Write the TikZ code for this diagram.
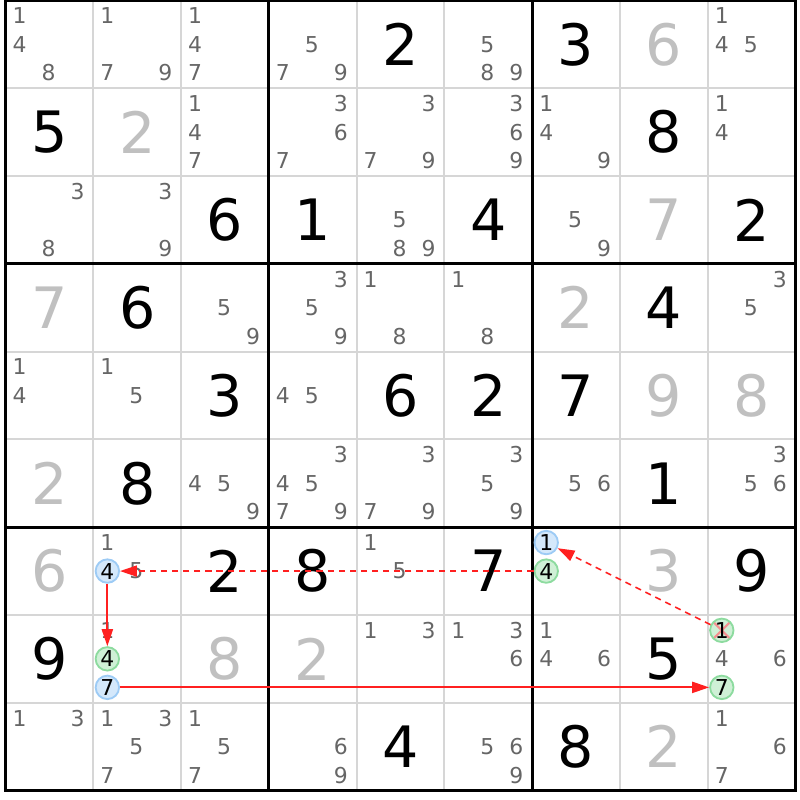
\documentclass[tikz,border=0pt]{standalone}
\usepackage{fontspec}
\setmainfont{DejaVu Sans}
\usetikzlibrary{arrows.meta}

\definecolor{candgray}{HTML}{666666}
\definecolor{solvedgray}{HTML}{C0C0C0}
\definecolor{cellline}{HTML}{D6D6D6}
\definecolor{bluefill}{HTML}{D4E8FB}
\definecolor{blueedge}{HTML}{9DCBF5}
\definecolor{greenfill}{HTML}{CFF0D6}
\definecolor{greenedge}{HTML}{8DDB9F}
\definecolor{crossred}{HTML}{F59090}
\definecolor{chainred}{HTML}{FF2020}

\tikzset{
    given/.style={font=\fontsize{18.5}{18.5}\selectfont, text=black, inner sep=0pt},
    solved/.style={given, text=solvedgray},
    cand/.style={font=\fontsize{7.1}{7.1}\selectfont, text=candgray, inner sep=0pt},
    bluecand/.style={cand, text=black, circle, draw=blueedge, fill=bluefill,
        line width=0.6pt, minimum size=7.6pt},
    greencand/.style={bluecand, draw=greenedge, fill=greenfill},
    crossed/.style={greencand, path picture={
        \draw[crossred, line width=0.7pt]
            (path picture bounding box.north west) -- (path picture bounding box.south east)
            (path picture bounding box.north east) -- (path picture bounding box.south west);}},
    chainlink/.style={color=chainred, -{Triangle[length=5.5pt,width=3.6pt]}},
    stronglink/.style={chainlink, line width=0.6pt},
    weaklink/.style={chainlink, line width=0.5pt, dash pattern=on 2pt off 1.6pt}
}

\begin{document}
\begin{tikzpicture}
    \useasboundingbox (-0.063,-0.108) rectangle (9.051,9.006);

    % cell lines
    \foreach \i in {1,2,4,5,7,8} {
        \draw[cellline, line width=0.6pt] (\i,0) -- (\i,9);
        \draw[cellline, line width=0.6pt] (0,\i) -- (9,\i);
    }
    % box lines
    \foreach \i in {3,6} {
        \draw[line width=1pt] (\i,0) -- (\i,9);
        \draw[line width=1pt] (0,\i) -- (9,\i);
    }
    \draw[line width=1.1pt] (0,0) rectangle (9,9);

    % givens
    \foreach \r/\c/\d in {0/4/2, 0/6/3, 1/0/5, 1/7/8, 2/2/6, 2/3/1, 2/5/4, 2/8/2,
                          3/1/6, 3/7/4, 4/2/3, 4/4/6, 4/5/2, 4/6/7, 5/1/8, 5/7/1,
                          6/2/2, 6/3/8, 6/5/7, 6/8/9, 7/0/9, 7/7/5, 8/4/4, 8/6/8} {
        \node[given] (g\r\c) at (\c+0.5, 8.5-\r) {\d};
    }

    % solved
    \foreach \r/\c/\d in {0/7/6, 1/1/2, 2/7/7, 3/0/7, 3/6/2, 4/7/9, 4/8/8,
                          5/0/2, 6/0/6, 6/7/3, 7/2/8, 7/3/2, 8/7/2} {
        \node[solved] (g\r\c) at (\c+0.5, 8.5-\r) {\d};
    }

    % candidates
    \foreach \r/\c/\ds in {0/0/{1,4,8}, 0/1/{1,7,9}, 0/2/{1,4,7}, 0/3/{5,7,9}, 0/5/{5,8,9}, 0/8/{1,4,5},
                           1/2/{1,4,7}, 1/3/{3,6,7}, 1/4/{3,7,9}, 1/5/{3,6,9}, 1/6/{1,4,9}, 1/8/{1,4},
                           2/0/{3,8}, 2/1/{3,9}, 2/4/{5,8,9}, 2/6/{5,9},
                           3/2/{5,9}, 3/3/{3,5,9}, 3/4/{1,8}, 3/5/{1,8}, 3/8/{3,5},
                           4/0/{1,4}, 4/1/{1,5}, 4/3/{4,5},
                           5/2/{4,5,9}, 5/3/{3,4,5,7,9}, 5/4/{3,7,9}, 5/5/{3,5,9}, 5/6/{5,6}, 5/8/{3,5,6},
                           6/1/{1,5}, 6/4/{1,5},
                           7/1/{1}, 7/4/{1,3}, 7/5/{1,3,6}, 7/6/{1,4,6}, 7/8/{4,6},
                           8/0/{1,3}, 8/1/{1,3,5,7}, 8/2/{1,5,7}, 8/3/{6,9}, 8/5/{5,6,9}, 8/8/{1,6,7}} {
        \foreach \d in \ds {
            \pgfmathtruncatemacro{\k}{mod(\d-1,3)}
            \pgfmathtruncatemacro{\m}{(\d-1)/3}
            \node[cand] (k\r\c\d) at ({\c+0.16+0.33*\k}, {8.825-\r-0.325*\m}) {\d};
        }
    }

    % chain
    \node[bluecand]  (k614) at (1.16, 2.5)   {4};
    \node[bluecand]  (k661) at (6.16, 2.825) {1};
    \node[greencand] (k664) at (6.16, 2.5)   {4};
    \node[greencand] (k714) at (1.16, 1.5)   {4};
    \node[bluecand]  (k717) at (1.16, 1.175) {7};
    \node[crossed]   (k781) at (8.16, 1.825) {1};
    \node[greencand] (k787) at (8.16, 1.175) {7};

    \draw[weaklink] (k781) -- (k661);
    \draw[weaklink] (k664) -- (k614);
    \draw[stronglink] (k614) -- (k714);
    \draw[stronglink] (k717) -- (k787);
\end{tikzpicture}
\end{document}
